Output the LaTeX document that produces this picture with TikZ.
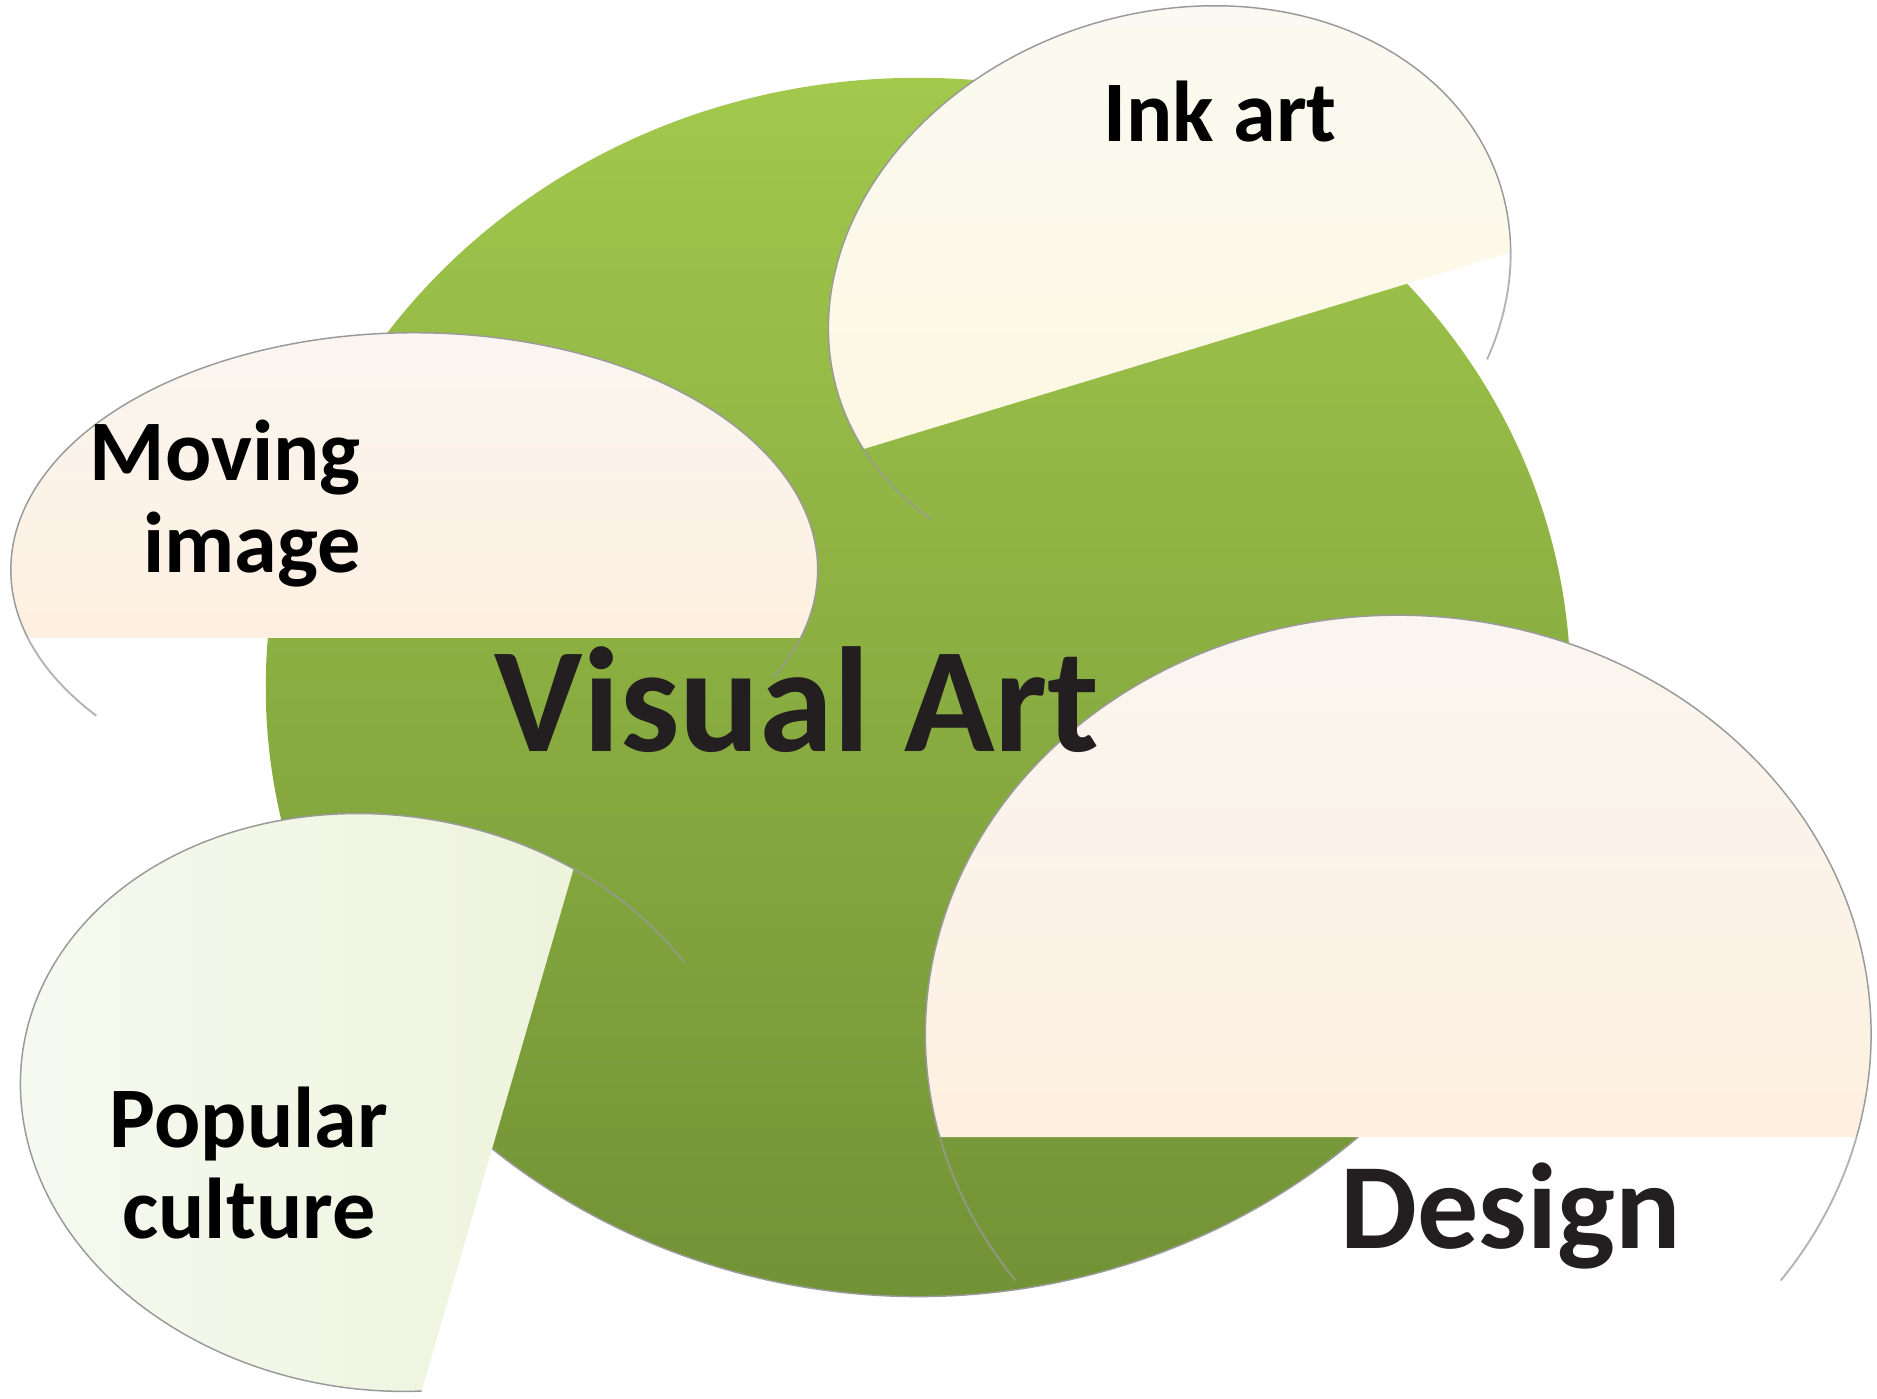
\documentclass[tikz,border=0pt]{standalone}
\usepackage{fontspec}
\setmainfont{Carlito}

\definecolor{leafTop}{HTML}{A2C84C}
\definecolor{leafBot}{HTML}{729236}
\definecolor{creamTop}{HTML}{FAF6F2}
\definecolor{creamBot}{HTML}{FDF0E0}
\definecolor{inkTop}{HTML}{FBFAF3}
\definecolor{inkBot}{HTML}{FCF8E2}
\definecolor{popLeft}{HTML}{F6FAF2}
\definecolor{popRight}{HTML}{EEF3DC}
\definecolor{rim}{HTML}{9A9A9A}
\definecolor{darkink}{HTML}{231F20}

\begin{document}
\begin{tikzpicture}[x=0.01cm, y=0.01cm,
    rimline/.style={draw=rim, line width=0.35pt},
    faint/.style={draw=rim, line width=0.45pt, opacity=0.75},
    bubbletext/.style={font=\bfseries\fontsize{20.5}{21.8}\selectfont, text=black, inner sep=0pt}]
    
    \useasboundingbox (0,0) rectangle (1568,-1168.7);
    
    % big green disc
    \shade[top color=leafTop, bottom color=leafBot] (767,-574) ellipse [x radius=545, y radius=509];
    \draw[rimline] (767,-574) ++(200:545 and 509) arc[start angle=200, end angle=330, x radius=545, y radius=509];
    
    % ink art
    \begin{scope}[shift={(977,-243)}, rotate=18]
        \shade[top color=inkTop, bottom color=inkBot] (-14.3:290 and 232) arc[start angle=-14.3, end angle=191.6, x radius=290, y radius=232] -- cycle;
        \draw[rimline] (-14.3:290 and 232) arc[start angle=-14.3, end angle=191.6, x radius=290, y radius=232];
        \draw[faint] (191.6:290 and 232) arc[start angle=191.6, end angle=211, x radius=290, y radius=232];
        \draw[faint] (-14.3:290 and 232) arc[start angle=-14.3, end angle=-36, x radius=290, y radius=232];
    \end{scope}
    
    % moving image
    \begin{scope}[shift={(346,-476)}]
        \shade[top color=creamTop, bottom color=creamBot] (-16.7:337 and 198) arc[start angle=-16.7, end angle=196.7, x radius=337, y radius=198] -- cycle;
        \draw[rimline] (-16.7:337 and 198) arc[start angle=-16.7, end angle=196.7, x radius=337, y radius=198];
        \draw[faint] (196.7:337 and 198) arc[start angle=196.7, end angle=218, x radius=337, y radius=198];
        \draw[faint] (-16.7:337 and 198) arc[start angle=-16.7, end angle=-27, x radius=337, y radius=198];
    \end{scope}
    
    % popular culture
    \begin{scope}[shift={(318,-921)}, rotate=-8]
        \shade[left color=popLeft, right color=popRight] (64:302 and 240) arc[start angle=64, end angle=282.9, x radius=302, y radius=240] -- cycle;
        \draw[rimline] (64:302 and 240) arc[start angle=64, end angle=282.9, x radius=302, y radius=240];
        \draw[faint] (64:302 and 240) arc[start angle=64, end angle=39, x radius=302, y radius=240];
    \end{scope}
    
    % design
    \begin{scope}[shift={(1168,-864)}]
        \shade[top color=creamTop, bottom color=creamBot] (-14.2:395 and 350) arc[start angle=-14.2, end angle=194.2, x radius=395, y radius=350] -- cycle;
        \draw[rimline] (-14.2:395 and 350) arc[start angle=-14.2, end angle=194.2, x radius=395, y radius=350];
        \draw[faint] (194.2:395 and 350) arc[start angle=194.2, end angle=216, x radius=395, y radius=350];
        \draw[faint] (-14.2:395 and 350) arc[start angle=-14.2, end angle=-36, x radius=395, y radius=350];
    \end{scope}
    
    % labels (base of a two-line node sits on its last line)
    \node[bubbletext, anchor=base] (ink) at (1019,-118) {Ink art};
    \node[bubbletext, anchor=base east, align=right] (moving) at (302,-478) {Moving\\image};
    \node[bubbletext, anchor=base, align=center] (popular) at (208,-1035) {Popular\\culture};
    \node[font=\bfseries\fontsize{29}{30}\selectfont, text=darkink, anchor=base, inner sep=0pt] (design) at (1262,-1043) {Design};
    \node[font=\bfseries\fontsize{35.5}{37}\selectfont, text=darkink, anchor=base, inner sep=0pt] (visual) at (666,-628) {Visual Art};
    
\end{tikzpicture}
\end{document}
